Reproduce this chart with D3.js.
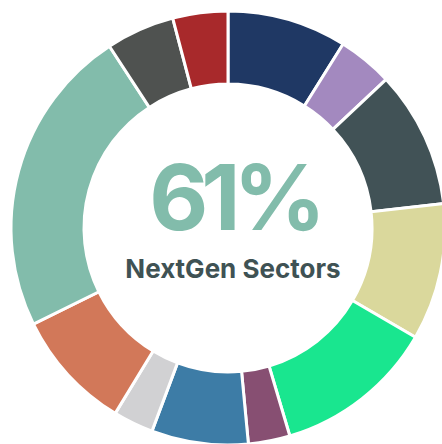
<!DOCTYPE html>
<html>
<head>
<meta charset="utf-8">
<script src="https://cdn.jsdelivr.net/npm/d3@7"></script>
<style>
  html, body { margin: 0; padding: 0; background: #ffffff; overflow: hidden; }
  svg { display: block; }
</style>
</head>
<body>
<div id="chart"></div>
<script>
const categories = ["Sector 1", "Sector 2", "Sector 3", "Sector 4", "Sector 5", "Sector 6",
                    "Sector 7", "Sector 8", "Sector 9", "Sector 10", "Sector 11", "Sector 12"];
const values = [8.9, 4.1, 10.2, 10.2, 12.0, 3.1, 7.2, 3.0, 9.0, 23.1, 5.1, 4.1];
const colors = ["#1f3864", "#a389bf", "#415256", "#dad89c", "#19e68f", "#874f72",
                "#3d7ca6", "#d1d1d3", "#d27859", "#82bcab", "#4f5250", "#a8292b"];
const centerValue = "61%";
const centerLabel = "NextGen Sectors";

const W = 442, H = 444;
const cx = 228, cy = 228, outerR = 217, innerR = 144;

const svg = d3.select("#chart").append("svg").attr("width", W).attr("height", H);
const g = svg.append("g").attr("transform", `translate(${cx},${cy})`);

const data = categories.map((c, i) => ({ name: c, value: values[i], color: colors[i] }));
const pie = d3.pie().value(d => d.value).sort(null);
const arc = d3.arc().innerRadius(innerR).outerRadius(outerR);

g.selectAll("path").data(pie(data)).join("path")
  .attr("d", arc)
  .attr("fill", d => d.data.color)
  .attr("stroke", "#ffffff")
  .attr("stroke-width", 3);

g.append("text")
  .attr("x", 6).attr("y", 2)
  .attr("text-anchor", "middle")
  .attr("font-family", "Inter, 'Open Sans', sans-serif")
  .attr("font-weight", 700)
  .attr("font-size", 91)
  .attr("letter-spacing", -7)
  .attr("fill", "#82bcab")
  .text(centerValue);

g.append("text")
  .attr("x", 5).attr("y", 50)
  .attr("text-anchor", "middle")
  .attr("font-family", "Inter, 'Open Sans', sans-serif")
  .attr("font-weight", 700)
  .attr("font-size", 26)
  .attr("fill", "#3f5254")
  .text(centerLabel);
</script>
</body>
</html>
